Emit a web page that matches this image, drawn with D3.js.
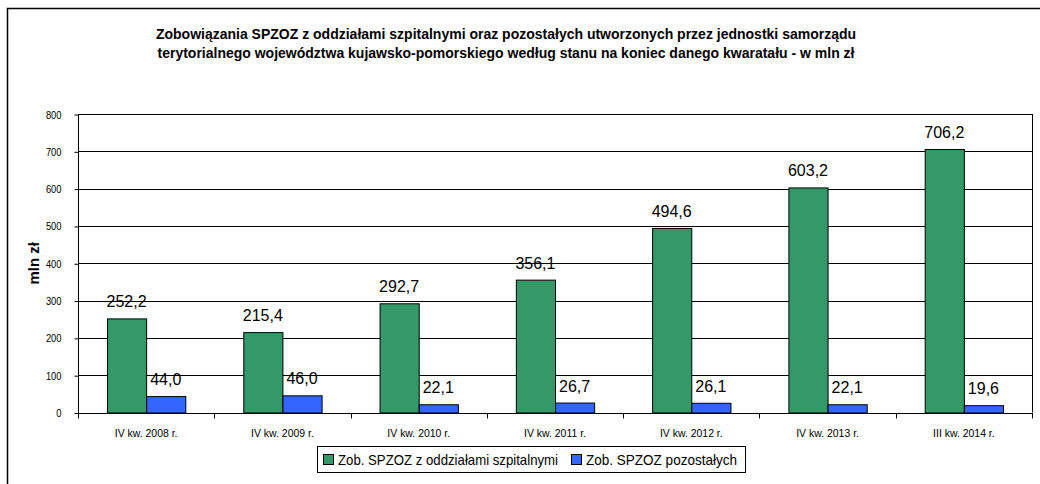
<!DOCTYPE html>
<html>
<head>
<meta charset="utf-8">
<script src="https://cdn.jsdelivr.net/npm/d3@7"></script>
<style>
  body { margin: 0; background: #fff; }
  text { font-family: "Liberation Sans", Arial, sans-serif; }
</style>
</head>
<body>
<div class="canvas"></div>
<script>
// data
const categories = ['IV kw. 2008 r.', 'IV kw. 2009 r.', 'IV kw. 2010 r.', 'IV kw. 2011 r.',
    'IV kw. 2012 r.', 'IV kw. 2013 r.', 'III kw. 2014 r.'];
const hospital = [252.2, 215.4, 292.7, 356.1, 494.6, 603.2, 706.2];
const others = [44.0, 46.0, 22.1, 26.7, 26.1, 22.1, 19.6];
const seriesNames = ['Zob. SPZOZ z oddziałami szpitalnymi', 'Zob. SPZOZ pozostałych'];
const seriesColors = ['#339966', '#3366ff'];
const yTicks = [0, 100, 200, 300, 400, 500, 600, 700, 800];
const titleLines = ['Zobowiązania SPZOZ z oddziałami szpitalnymi oraz pozostałych utworzonych przez jednostki samorządu',
    'terytorialnego województwa kujawsko-pomorskiego według stanu na koniec danego kwaratału - w mln zł'];

const width = 1040, height = 484;
const svg = d3.select('.canvas')
    .append('svg')
        .attr('width', width)
        .attr('height', height);

// outer frame (runs off the right and bottom edge)
svg.append('rect')
    .attr('x', 7.5).attr('y', 8.5)
    .attr('width', 1060).attr('height', 500)
    .attr('fill', 'none').attr('stroke', '#000').attr('stroke-width', 1.5);

// title - a bit condensed like the original, so squeeze it to the 14px width
svg.append('g').selectAll('text')
    .data(titleLines)
    .enter().append('text')
        .attr('x', 506)
        .attr('y', (d, i) => 39 + i * 19)
        .attr('text-anchor', 'middle')
        .attr('font-size', 14)
        .attr('font-weight', 'bold')
        .text(d => d)
        .each(function() {
            const w = this.getComputedTextLength();
            d3.select(this)
                .attr('font-size', 15)
                .attr('textLength', w)
                .attr('lengthAdjust', 'spacingAndGlyphs');
        });

const margin = {top: 114, left: 78, right: 1032, bottom: 412.5};

const y = d3.scaleLinear()
    .domain([0, 800])
    .range([margin.bottom, margin.top]);

const x = d3.scaleBand()
    .domain(categories)
    .range([margin.left, margin.right]);

const inner = d3.scaleBand()
    .domain([0, 1])
    .range([0, x.bandwidth()])
    .paddingOuter(0.74);

// grid
svg.append('g').selectAll('line')
    .data(yTicks.slice(1))
    .enter().append('line')
        .attr('x1', margin.left).attr('x2', margin.right)
        .attr('y1', d => Math.round(y(d)) + 0.5).attr('y2', d => Math.round(y(d)) + 0.5)
        .attr('stroke', '#000');

// right border
svg.append('line')
    .attr('x1', margin.right + 0.5).attr('x2', margin.right + 0.5)
    .attr('y1', margin.top).attr('y2', margin.bottom)
    .attr('stroke', '#000');

// bars
const series = [hospital, others];
series.forEach((vals, s) => {
    const g = svg.append('g');
    g.selectAll('rect')
        .data(vals)
        .enter().append('rect')
            .attr('x', (d, i) => x(categories[i]) + inner(s) + 0.5)
            .attr('y', d => y(d) + 0.5)
            .attr('width', inner.bandwidth())
            .attr('height', d => y(0) - y(d))
            .attr('fill', seriesColors[s])
            .attr('stroke', '#000')
            .attr('stroke-width', 1);
    g.selectAll('text')
        .data(vals)
        .enter().append('text')
            .attr('x', (d, i) => x(categories[i]) + inner(s) + inner.bandwidth() / 2)
            .attr('y', d => y(d) - 11)
            .attr('text-anchor', 'middle')
            .attr('font-size', 16)
            .text(d => d.toFixed(1).replace('.', ','));
});

// y axis
const yAxis = d3.axisLeft(y)
    .tickValues(yTicks)
    .tickSize(4)
    .tickPadding(13);
svg.append('g')
    .attr('transform', `translate(${margin.left + 0.5}, 0.5)`)
    .call(yAxis)
    .call(g => g.select('.domain').attr('stroke', '#000').attr('d', `M0,${margin.top}V${Math.round(margin.bottom)}`))
    .call(g => g.selectAll('text').attr('font-size', 11).attr('font-family', null).attr('fill', '#000')
        .each(function() {
            const w = this.getComputedTextLength();
            d3.select(this).attr('textLength', w * 0.85).attr('lengthAdjust', 'spacingAndGlyphs');
        }))
    .call(g => g.selectAll('line').attr('stroke', '#000'));

// x axis
const xAxis = d3.axisBottom(x)
    .tickSize(0)
    .tickPadding(16);
const xg = svg.append('g')
    .attr('transform', `translate(0, ${Math.round(margin.bottom) + 0.5})`)
    .call(xAxis)
    .call(g => g.select('.domain').attr('stroke', '#000').attr('d', `M${margin.left},0H${margin.right + 1}`))
    .call(g => g.selectAll('text').attr('font-size', 11).attr('font-family', null).attr('fill', '#000')
        .each(function() {
            const w = this.getComputedTextLength();
            d3.select(this).attr('textLength', w * 0.95).attr('lengthAdjust', 'spacingAndGlyphs');
        }));
xg.selectAll('.sep')
    .data(d3.range(categories.length + 1))
    .enter().append('line')
        .attr('x1', i => Math.round(margin.left + i * x.step()) + 0.5)
        .attr('x2', i => Math.round(margin.left + i * x.step()) + 0.5)
        .attr('y1', 0).attr('y2', 5)
        .attr('stroke', '#000');

// y title
svg.append('text')
    .attr('transform', `translate(39, ${(margin.top + margin.bottom) / 2}) rotate(-90)`)
    .attr('text-anchor', 'middle')
    .attr('font-size', 15)
    .attr('font-weight', 'bold')
    .text('mln zł');

// legend
const legendWidths = [220, 151];
const legend = svg.append('g');
let lx = 323;
seriesNames.forEach((name, i) => {
    legend.append('rect')
        .attr('x', lx + 0.5).attr('y', 454.5)
        .attr('width', 10).attr('height', 10)
        .attr('fill', seriesColors[i]).attr('stroke', '#000');
    legend.append('text')
        .attr('x', lx + 15).attr('y', 465)
        .attr('font-size', 15)
        .attr('textLength', legendWidths[i])
        .attr('lengthAdjust', 'spacingAndGlyphs')
        .text(name);
    lx += 15 + legendWidths[i] + 13;
});
legend.insert('rect', ':first-child')
    .attr('x', 317.5).attr('y', 446.5)
    .attr('width', 428).attr('height', 26)
    .attr('fill', '#fff').attr('stroke', '#000');
</script>
</body>
</html>
